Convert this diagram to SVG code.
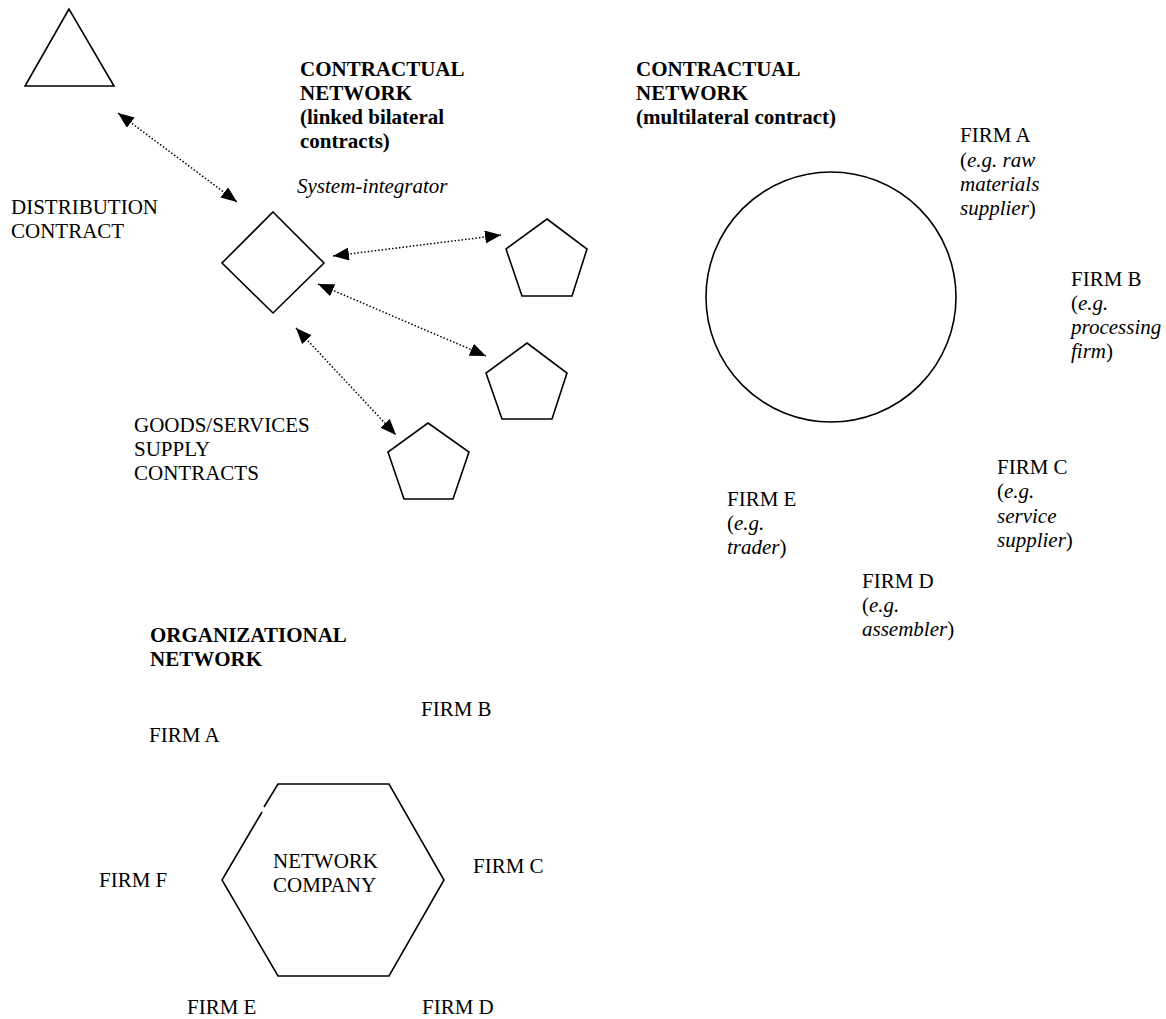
<svg xmlns="http://www.w3.org/2000/svg" width="1166" height="1019" viewBox="0 0 1166 1019">
  <style>
    text { font-family: "Liberation Serif", "Times New Roman", Times, serif; font-size: 21px; fill: #000; }
    .b { font-weight: bold; }
    .i { font-style: italic; }
    .shape { fill: none; stroke: #000; stroke-width: 1.6; stroke-linejoin: miter; }
    .link { fill: none; stroke: #000; stroke-width: 1.5; stroke-dasharray: 1.5 2; }
  </style>
  <defs>
    <marker id="head" viewBox="0 0 16 13" refX="16" refY="6.5" markerWidth="16" markerHeight="13" markerUnits="userSpaceOnUse" orient="auto-start-reverse">
      <path d="M0,0 L16,6.5 L0,13 z" fill="#000"/>
    </marker>
  </defs>

  <rect width="1166" height="1019" fill="#fff"/>

  <!-- Bilateral contract network -->
  <g id="distributor">
    <polygon class="shape" points="69,9 25,86 114,86"/>
  </g>
  <g id="system-integrator">
    <polygon class="shape" points="273,212 324,263 273,313 222,263"/>
  </g>
  <g id="supplier-1">
    <polygon class="shape" points="547,219 587,249 572,296 522,296 506,249"/>
  </g>
  <g id="supplier-2">
    <polygon class="shape" points="527,343 567,373 552,419 502,419 486,373"/>
  </g>
  <g id="supplier-3">
    <polygon class="shape" points="428,423 469,452 453,499 404,499 388,452"/>
  </g>

  <g id="connectors">
    <line class="link" x1="118" y1="113" x2="237" y2="202" marker-start="url(#head)" marker-end="url(#head)"/>
    <line class="link" x1="333" y1="256" x2="501" y2="235" marker-start="url(#head)" marker-end="url(#head)"/>
    <line class="link" x1="318" y1="284" x2="486" y2="356" marker-start="url(#head)" marker-end="url(#head)"/>
    <line class="link" x1="296" y1="328" x2="396" y2="435" marker-start="url(#head)" marker-end="url(#head)"/>
  </g>

  <g id="bilateral-labels">
    <text class="b" x="300" y="76">CONTRACTUAL</text>
    <text class="b" x="300" y="100">NETWORK</text>
    <text class="b" x="300" y="124">(linked bilateral</text>
    <text class="b" x="300" y="148">contracts)</text>
    <text class="i" x="297" y="193">System-integrator</text>
    <text x="11" y="214">DISTRIBUTION</text>
    <text x="11" y="238">CONTRACT</text>
    <text x="134" y="432">GOODS/SERVICES</text>
    <text x="134" y="456">SUPPLY</text>
    <text x="134" y="480">CONTRACTS</text>
  </g>

  <!-- Multilateral contract network -->
  <g id="multilateral-contract">
    <circle class="shape" cx="831" cy="297" r="125"/>
  </g>
  <g id="multilateral-labels">
    <text class="b" x="636" y="76">CONTRACTUAL</text>
    <text class="b" x="636" y="100">NETWORK</text>
    <text class="b" x="636" y="124">(multilateral contract)</text>
  </g>
  <g id="m-firm-a">
    <text x="960" y="142">FIRM A</text>
    <text x="960" y="167">(<tspan class="i">e.g. raw</tspan></text>
    <text x="960" y="191" class="i">materials</text>
    <text x="960" y="215"><tspan class="i">supplier</tspan>)</text>
  </g>
  <g id="m-firm-b">
    <text x="1071" y="286">FIRM B</text>
    <text x="1071" y="310">(<tspan class="i">e.g.</tspan></text>
    <text x="1071" y="334" class="i">processing</text>
    <text x="1071" y="358"><tspan class="i">firm</tspan>)</text>
  </g>
  <g id="m-firm-c">
    <text x="997" y="474">FIRM C</text>
    <text x="997" y="498">(<tspan class="i">e.g.</tspan></text>
    <text x="997" y="523" class="i">service</text>
    <text x="997" y="547"><tspan class="i">supplier</tspan>)</text>
  </g>
  <g id="m-firm-d">
    <text x="862" y="588">FIRM D</text>
    <text x="862" y="612">(<tspan class="i">e.g.</tspan></text>
    <text x="862" y="636"><tspan class="i">assembler</tspan>)</text>
  </g>
  <g id="m-firm-e">
    <text x="727" y="506">FIRM E</text>
    <text x="727" y="530">(<tspan class="i">e.g.</tspan></text>
    <text x="727" y="554"><tspan class="i">trader</tspan>)</text>
  </g>

  <!-- Organizational network -->
  <g id="network-company">
    <polyline class="shape" points="264,807 278,784 389,784 444,880 389,976 278,976 222,880 262,812"/>
    <text x="273" y="868">NETWORK</text>
    <text x="273" y="892">COMPANY</text>
  </g>
  <g id="organizational-labels">
    <text class="b" x="150" y="642">ORGANIZATIONAL</text>
    <text class="b" x="150" y="666">NETWORK</text>
  </g>
  <g id="o-firm-a"><text x="149" y="742">FIRM A</text></g>
  <g id="o-firm-b"><text x="421" y="716">FIRM B</text></g>
  <g id="o-firm-c"><text x="473" y="873">FIRM C</text></g>
  <g id="o-firm-d"><text x="422" y="1014">FIRM D</text></g>
  <g id="o-firm-e"><text x="187" y="1014">FIRM E</text></g>
  <g id="o-firm-f"><text x="99" y="887">FIRM F</text></g>
</svg>
